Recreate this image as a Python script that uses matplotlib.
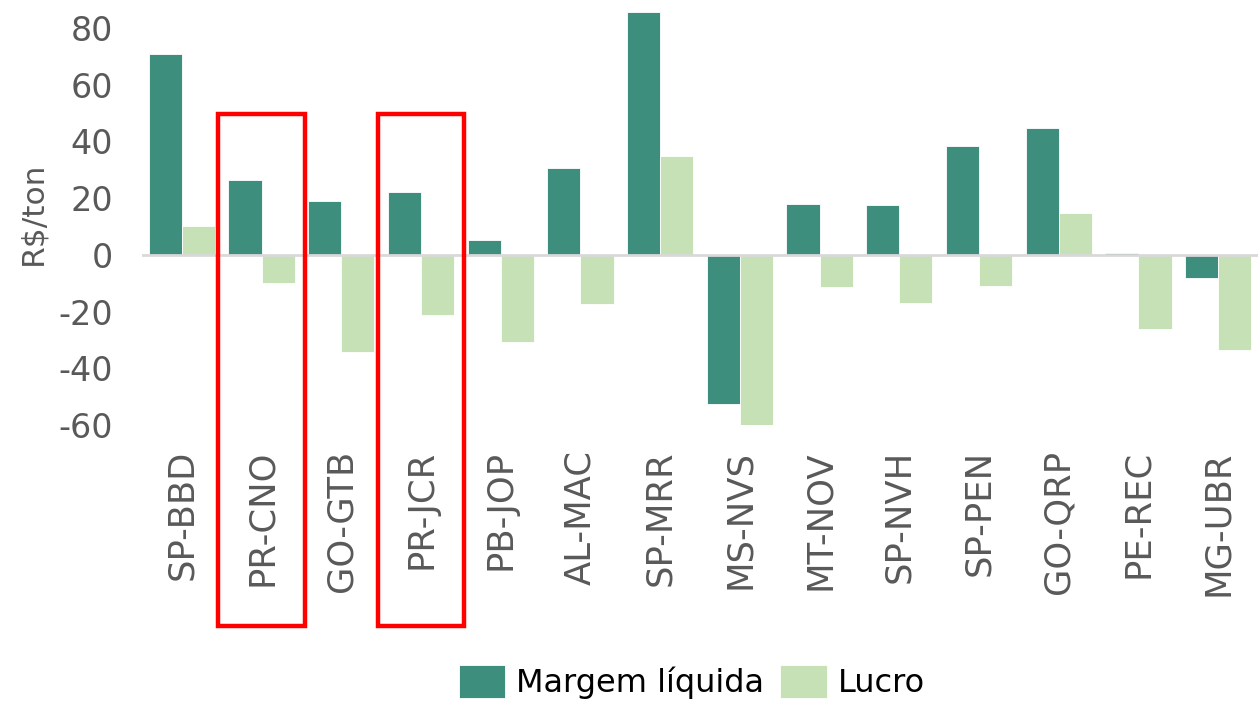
import matplotlib
matplotlib.use("Agg")
import matplotlib.pyplot as plt
import numpy as np
from matplotlib.patches import Rectangle

categories = ["SP-BBD", "PR-CNO", "GO-GTB", "PR-JCR", "PB-JOP", "AL-MAC", "SP-MRR",
              "MS-NVS", "MT-NOV", "SP-NVH", "SP-PEN", "GO-QRP", "PE-REC", "MG-UBR"]
margem_liquida = [70.7, 26.2, 19.1, 22.1, 5.2, 30.7, 85.5, -52.6, 18.0, 17.4, 38.3, 44.8, 0.5, -8.2]
lucro = [10.3, -10.1, -34.3, -21.4, -30.6, -17.2, 34.7, -60.0, -11.5, -17.1, -10.9, 14.6, -26.2, -33.4]
yticks = [-60, -40, -20, 0, 20, 40, 60, 80]
highlighted = ["PR-CNO", "PR-JCR"]

plt.rcParams['font.family'] = ['DejaVu Sans']

W, H = 1258, 702
fig = plt.figure(figsize=(W / 100, H / 100), dpi=100)
ax = fig.add_axes([142 / W, 1 - 425 / H, (1258 - 142) / W, 425 / H])

x = np.arange(len(categories))
bw = 0.415
ax.bar(x - bw / 2, margem_liquida, width=bw, color="#3E8E7E", edgecolor="white",
       linewidth=0.6, label="Margem líquida", zorder=2)
ax.bar(x + bw / 2, lucro, width=bw, color="#C7E1B6", edgecolor="white",
       linewidth=0.6, label="Lucro", zorder=2)
ax.axhline(0, color="#D9D9D9", linewidth=2, zorder=3)

ax.set_xlim(-0.5, len(categories) - 0.5)
ax.set_ylim(-60, 89.8)
ax.set_yticks(yticks)
ax.set_yticklabels([str(t) for t in yticks], fontsize=24, color="#595959")
ax.set_xticks(x)
ax.set_xticklabels(categories, rotation=90, fontsize=25.5, color="#595959", va="top")
ax.tick_params(axis="both", length=0)
ax.tick_params(axis="x", pad=18)
ax.tick_params(axis="y", pad=21)
for s in ax.spines.values():
    s.set_visible(False)

fig.text(33 / W, 1 - 213 / H, "R$/ton", rotation=90, fontsize=22.5, color="#595959",
         ha="center", va="center")

# highlight boxes
for cat in highlighted:
    i = categories.index(cat)
    rect = Rectangle((i - 0.545, -131), 1.09, 180.5, fill=False, edgecolor="#FF0000",
                     linewidth=3.2, clip_on=False, zorder=5)
    ax.add_patch(rect)

leg = fig.legend(loc="center", bbox_to_anchor=(692 / W, 1 - 682 / H), ncol=2, frameon=False,
                 fontsize=23, handlelength=1.45, handleheight=1.25, handletextpad=0.35,
                 columnspacing=0.5)

fig.savefig("out.png", dpi=100)
